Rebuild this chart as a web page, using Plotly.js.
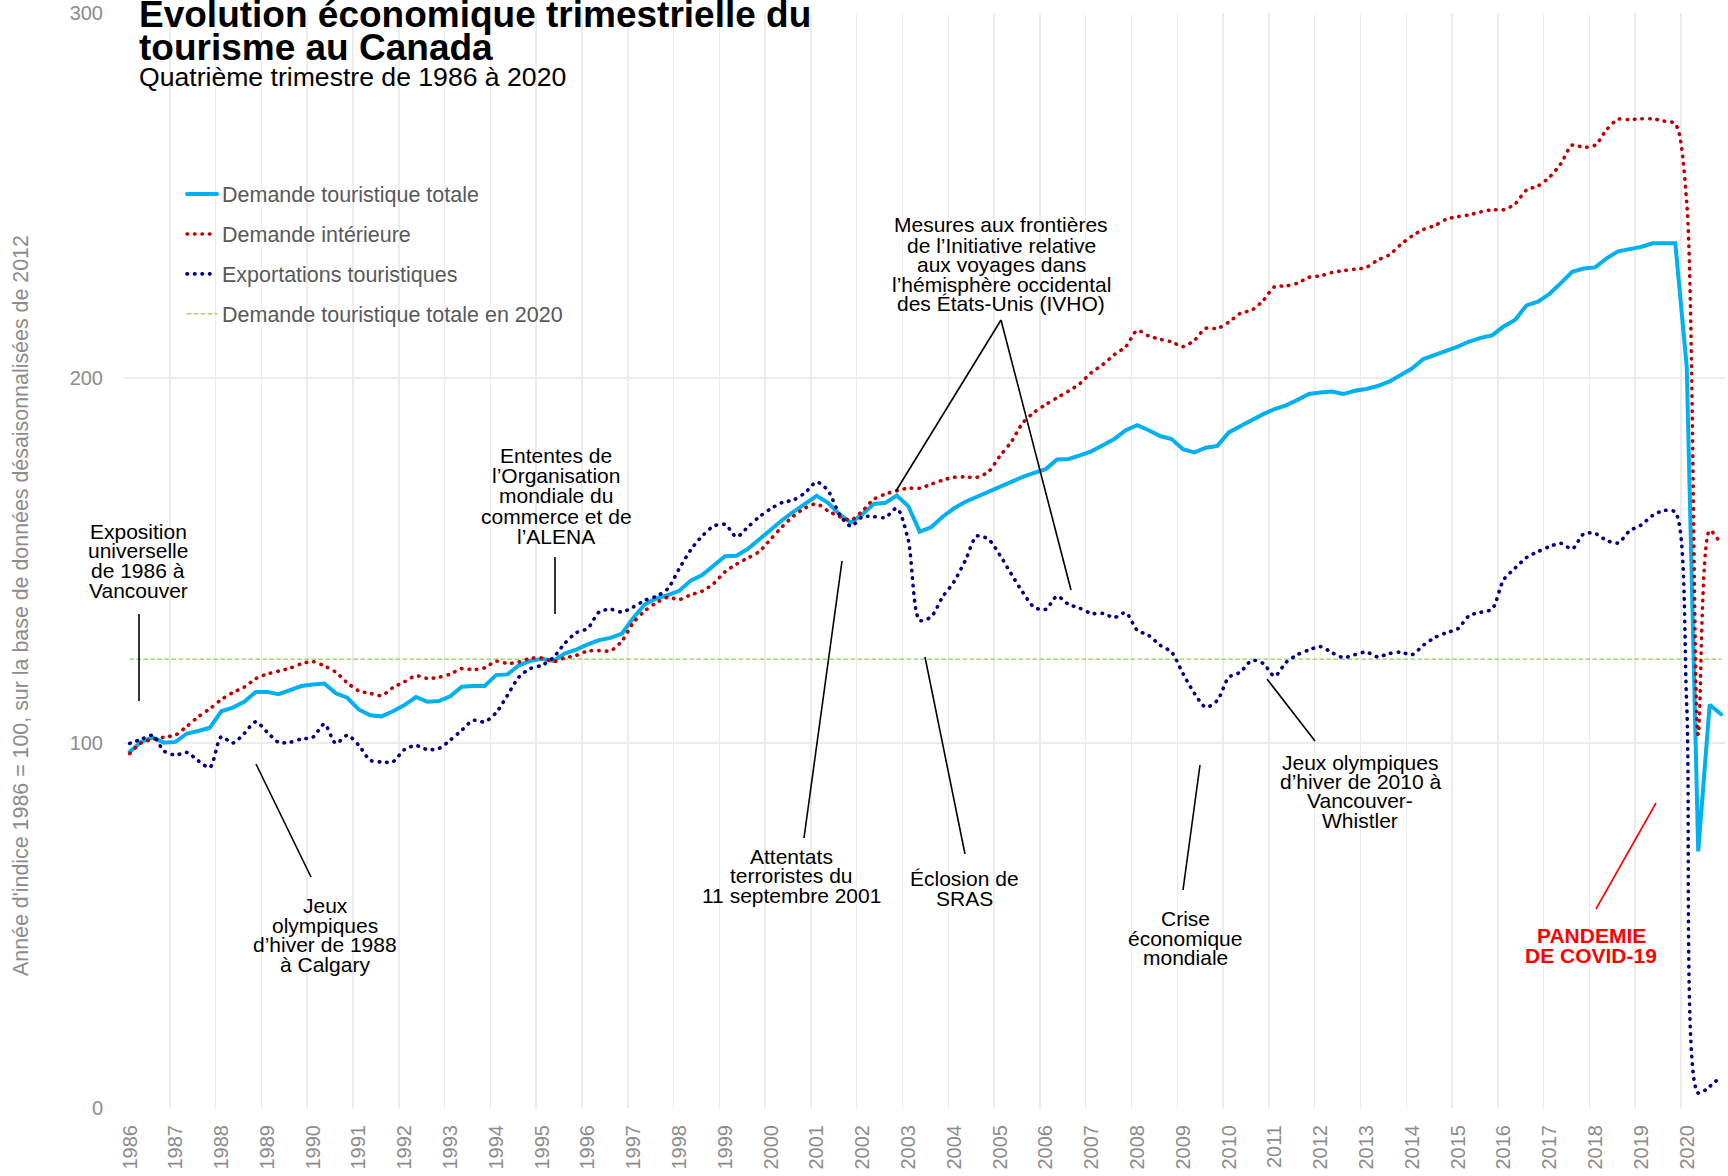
<!DOCTYPE html>
<html><head><meta charset="utf-8">
<script src="https://cdn.plot.ly/plotly-3.0.1.min.js"></script>
<style>
html,body{margin:0;padding:0;background:#fff;}
#chart{width:1728px;height:1176px;}
#chart .js-line{stroke-linecap:round;}
</style></head><body><div id="chart"></div>
<script>
// ---------- DATA ----------
const years = [1986,1987,1988,1989,1990,1991,1992,1993,1994,1995,1996,1997,1998,1999,2000,2001,2002,2003,2004,2005,2006,2007,2008,2009,2010,2011,2012,2013,2014,2015,2016,2017,2018,2019,2020];
const quarters = ["T1","T2","T3","T4"];

const demandeTotale = [
97.6,100.3,101.5,100.1,100.3,102.6,103.3,104.2,108.7,109.7,111.3,114.0,114.0,113.4,114.5,115.6,116.0,116.3,113.6,112.4,
109.2,107.6,107.3,108.7,110.4,112.6,111.3,111.5,112.8,115.4,115.6,115.6,118.6,118.8,121.3,122.5,123.1,122.5,124.5,125.6,
127.0,128.2,128.8,130.0,134.3,138.0,139.6,140.5,
141.7,144.5,146.0,148.7,151.2,151.3,153.2,155.8,158.5,161.1,163.4,165.5,167.7,165.8,162.6,160.4,162.7,165.5,165.8,167.8,
164.9,157.9,159.1,162.0,164.3,166.1,167.5,168.6,170.0,171.5,172.9,174.0,175.0,177.7,177.8,178.8,179.9,181.6,183.3,185.7,
187.1,185.7,184.1,
183.3,180.5,179.6,180.9,181.4,185.1,186.8,188.5,190.1,191.5,192.5,194.0,195.6,196.0,196.3,195.6,196.5,197.0,197.8,199.0,
200.8,202.6,205.2,206.3,207.6,208.6,210.0,211.0,211.7,214.1,215.9,219.9,220.9,223.0,226.0,229.1,230.0,230.3,232.8,234.7,
235.3,235.9,236.9,237.0,236.9,
203.0,70.3,110.5,107.9];

const demandeInterieure = [
97.1,100.0,101.0,101.6,102.2,104.6,107.2,109.4,111.9,113.8,115.3,117.6,118.9,119.7,120.5,121.7,122.3,121.1,119.4,116.5,
114.3,113.6,113.0,115.2,116.8,118.4,117.7,118.0,118.9,120.4,120.1,120.6,122.4,121.8,122.2,123.2,123.3,122.3,123.3,124.0,
125.2,125.3,125.3,128.0,133.0,136.2,138.4,139.9,
139.3,140.6,141.6,143.7,146.9,149.0,150.7,152.5,155.9,159.3,162.2,164.4,165.5,163.6,162.0,161.1,163.6,166.8,168.2,169.1,
169.8,169.8,170.9,172.0,172.8,172.9,172.8,174.3,178.6,182.5,187.7,
190.6,192.7,194.6,196.4,198.5,201.5,
203.7,206.4,208.6,213.0,211.5,210.6,209.9,208.6,210.4,213.6,213.6,215.3,217.7,218.6,221.2,225.0,225.2,226.0,227.6,228.0,
228.9,229.4,229.8,230.3,232.3,233.7,236.5,238.9,240.7,241.8,243.5,244.2,244.7,245.5,246.1,246.1,247.7,251.5,252.6,255.0,
258.7,263.8,263.2,263.8,268.0,270.9,270.8,271.0,271.0,270.4,269.6,
248.0,102.3,158.2,154.4];

const exportations = [
99.9,101.0,102.1,97.8,96.7,97.4,95.1,93.3,101.7,100.0,102.6,105.8,103.0,100.2,100.2,101.1,101.6,105.2,99.9,102.1,
99.4,95.3,94.8,94.9,98.2,99.3,98.2,98.5,100.8,103.5,106.2,105.8,108.3,113.1,118.1,120.4,121.3,123.4,127.3,130.2,
131.4,135.9,136.6,135.9,137.3,139.1,140.2,142.3,
147.8,152.9,156.7,159.4,159.9,156.5,159.2,162.0,164.2,165.9,166.6,168.6,171.5,169.1,162.6,159.4,162.0,162.0,161.8,164.3,
155.6,133.6,134.6,140.0,144.2,150.1,156.7,155.8,151.5,146.3,141.3,137.2,136.6,140.2,138.0,136.9,135.5,135.5,134.4,135.7,
130.9,129.5,126.8,
124.9,119.0,113.6,109.8,111.7,118.0,119.4,122.6,121.8,118.3,122.1,124.2,125.5,126.4,124.8,123.4,124.2,124.9,123.6,124.5,
124.9,124.2,126.8,128.9,130.2,131.3,134.9,135.8,136.7,144.7,147.9,150.8,152.4,153.8,154.7,153.2,157.3,157.4,155.5,154.8,
158.1,159.7,162.3,163.7,163.2,
110.0,4.1,5.9,8.7];

const niveauDemande2020 = 123.0;

const seriesNames = ["Demande touristique totale","Demande intérieure","Exportations touristiques","Demande touristique totale en 2020"];

// ---------- X positions (middle of each quarter) ----------
const xs = [], labels = [];
years.forEach(y => quarters.forEach((q, k) => { xs.push(y + (k + 0.5) / 4); labels.push(y + " " + q); }));

// ---------- Geometry helpers (pixel -> paper) ----------
const W = 1728, Hh = 1176, L = 124, R = 3, T = 13, B = 68;
const PW = W - L - R, PH = Hh - T - B, BOT = Hh - B;
const PX = x => (x - L) / PW;
const PY = y => (BOT - y) / PH;
const FONT = "Liberation Sans, Arial, Helvetica, sans-serif";

const dotDash = "0.5px,7px";
const traces = [
  {x: xs, y: xs.map(() => niveauDemande2020), text: labels, name: seriesNames[3], type: "scatter", mode: "lines",
   line: {color: "#92d050", width: 1.2, dash: "4px,3px"}, legendgroup: "g4", legendrank: 4},
  {x: xs, y: demandeTotale, text: labels, name: seriesNames[0], type: "scatter", mode: "lines",
   line: {color: "#00b0f0", width: 4}, legendgroup: "g1", legendrank: 1},
  {x: xs, y: demandeInterieure, text: labels, name: seriesNames[1], type: "scatter", mode: "lines",
   line: {color: "#c00000", width: 3.6, dash: dotDash, shape: "spline", smoothing: 0.8}, legendgroup: "g2", legendrank: 2},
  {x: xs, y: exportations, text: labels, name: seriesNames[2], type: "scatter", mode: "lines",
   line: {color: "#000080", width: 3.6, dash: dotDash, shape: "spline", smoothing: 0.8}, legendgroup: "g3", legendrank: 3}
];

// ---------- Annotation text blocks ----------
const notes = [
  {lines: ["Exposition","universelle","de 1986 à","Vancouver"], cx: 138, ys: [531,550,570,590]},
  {lines: ["Jeux","olympiques","d’hiver de 1988","à Calgary"], cx: 325, ys: [905,925,944,964]},
  {lines: ["Ententes de","l’Organisation","mondiale du","commerce et de","l’ALENA"], cx: 556, ys: [456,476,496,516,536]},
  {lines: ["Attentats","terroristes du","11 septembre 2001"], cx: 791, ys: [856,875,895]},
  {lines: ["Mesures aux frontières","de l’Initiative relative","aux voyages dans","l’hémisphère occidental","des États-Unis (IVHO)"], cx: 1001, ys: [225,245,264,284,303]},
  {lines: ["Éclosion de","SRAS"], cx: 965, ys: [878,898]},
  {lines: ["Crise","économique","mondiale"], cx: 1185, ys: [918,938,957]},
  {lines: ["Jeux olympiques","d’hiver de 2010 à","Vancouver-","Whistler"], cx: 1360, ys: [762,781,800,820]},
  {lines: ["PANDEMIE","DE COVID-19"], cx: 1591, ys: [935,955], color: "#ff0000", bold: true}
];
const leaders = [
  [139,614,139,701],[256,764,311,877],[555,557,555,614],[842,561,804,838],
  [1001,320,896,491],[1001,320,1071,590],[925,657,965,854],[1200,765,1183,890],[1267,679,1315,741]
];

const annotations = [];
notes.forEach(n => n.lines.forEach((t, k) => annotations.push({
  xref: "paper", yref: "paper", x: PX(n.cx), y: PY(n.ys[k]), xanchor: "center", yanchor: "middle",
  text: n.bold ? "<b>" + t + "</b>" : t, showarrow: false,
  font: {family: FONT, size: 21, color: n.color || "#000"}
})));
// title block
[["<b>Evolution économique trimestrielle du</b>", 15, 37],
 ["<b>tourisme au Canada</b>", 47, 37],
 ["Quatrième trimestre de 1986 à 2020", 77, 26.6]].forEach(([t, y, s]) => annotations.push({
  xref: "paper", yref: "paper", x: PX(137), y: PY(y), xanchor: "left", yanchor: "middle",
  text: t, showarrow: false, font: {family: FONT, size: s, color: "#000"}
}));
// y-axis title
annotations.push({xref: "paper", yref: "paper", x: PX(21), y: PY(606), xanchor: "center", yanchor: "middle",
  textangle: -90, showarrow: false,
  text: "Année d'indice 1986 = 100, sur la base de données désaisonnalisées de 2012",
  font: {family: FONT, size: 21.4, color: "#8c8c8c"}});

const shapes = leaders.map(([x0,y0,x1,y1]) => ({type: "line", xref: "paper", yref: "paper",
  x0: PX(x0), y0: PY(y0), x1: PX(x1), y1: PY(y1), line: {color: "#000", width: 1.6}}));
shapes.push({type: "line", xref: "paper", yref: "paper", x0: PX(1656), y0: PY(803), x1: PX(1596), y1: PY(909),
  line: {color: "#ff0000", width: 1.6}});
shapes.push({type: "line", xref: "paper", yref: "y", x0: 0, x1: 1, y0: 100, y1: 100, layer: "below",
  line: {color: "#d4d4d4", width: 2}});

const layout = {
  width: W, height: Hh, autosize: false,
  margin: {l: L, r: R, t: T, b: B, pad: 0},
  paper_bgcolor: "#fff", plot_bgcolor: "#fff",
  font: {family: FONT, color: "#808080"},
  showlegend: true,
  legend: {x: PX(182), y: PY(173.5), xanchor: "left", yanchor: "top", bgcolor: "rgba(0,0,0,0)",
    font: {family: FONT, size: 21.5, color: "#595959"}, tracegroupgap: 9, itemwidth: 30, traceorder: "grouped"},
  xaxis: {range: [1986, 2020.96], tickvals: years, ticktext: years.map(String), tickangle: -90,
    tickfont: {family: FONT, size: 20, color: "#8c8c8c"}, showgrid: true, gridcolor: "#ececec", gridwidth: 1.5,
    zeroline: false, showline: false, ticks: "outside", ticklen: 8, tickcolor: "rgba(0,0,0,0)",
    ticklabelshift: 6, fixedrange: true},
  yaxis: {range: [0, 300], tickvals: [0, 100, 200, 300], ticktext: ["0","100","200","300"],
    tickfont: {family: FONT, size: 20, color: "#8c8c8c"}, showgrid: true, gridcolor: "#ececec", gridwidth: 1.5,
    zeroline: false, showline: false, ticks: "outside", ticklen: 16, tickcolor: "rgba(0,0,0,0)", fixedrange: true},
  annotations: annotations,
  shapes: shapes
};

Plotly.newPlot("chart", traces, layout, {displayModeBar: false, staticPlot: true});
</script></body></html>
